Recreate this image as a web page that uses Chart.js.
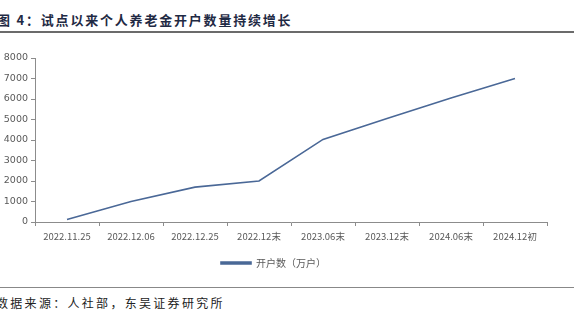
<!DOCTYPE html>
<html lang="zh">
<head>
<meta charset="UTF-8">
<title>个人养老金开户数量</title>
<script src="https://cdn.jsdelivr.net/npm/chart.js"></script>
<style>
  html, body {
    margin: 0;
    padding: 0;
    background: #fff;
    width: 574px;
    height: 321px;
    overflow: hidden;
    font-family: "Noto Sans CJK SC", "DejaVu Sans", sans-serif;
  }
  .title {
    position: absolute;
    left: -3px;
    top: 10px;
    font-size: 13px;
    font-weight: bold;
    color: #1f2a44;
    white-space: nowrap;
    letter-spacing: 1.8px;
  }
  .rule {
    position: absolute;
    left: 0;
    width: 574px;
    background: #6b6b6b;
  }
  .source {
    position: absolute;
    left: -4px;
    top: 294px;
    font-size: 12px;
    color: #222;
    white-space: nowrap;
    letter-spacing: 2.3px;
  }
  #wrap {
    position: absolute;
    left: 0;
    top: 40px;
    width: 574px;
    height: 240px;
  }
</style>
</head>
<body>
<div class="title">图 4：试点以来个人养老金开户数量持续增长</div>
<div class="rule" style="top:31px;height:2px;"></div>
<div id="wrap"><canvas id="c"></canvas></div>
<div class="rule" style="top:287px;height:1px;background:#888;"></div>
<div class="source">数据来源：人社部，东吴证券研究所</div>
<script>
// 数据
const categories = ['2022.11.25', '2022.12.06', '2022.12.25', '2022.12末', '2023.06末', '2023.12末', '2024.06末', '2024.12初'];
const accounts = [120, 1000, 1700, 2000, 4030, 5050, 6050, 7000];
const yTicks = [0, 1000, 2000, 3000, 4000, 5000, 6000, 7000, 8000];

const axisColor = '#8c8c8c';
const labelColor = '#595959';

new Chart(document.getElementById('c'), {
  type: 'line',
  data: {
    labels: categories,
    datasets: [{
      label: '开户数（万户）',
      data: accounts,
      borderColor: '#4a6897',
      backgroundColor: '#4a6897',
      borderWidth: 1.6,
      pointRadius: 0,
      tension: 0
    }]
  },
  options: {
    responsive: true,
    maintainAspectRatio: false,
    animation: false,
    layout: { padding: { top: 18, right: 27, left: 0, bottom: 2 } },
    plugins: {
      tooltip: { enabled: false },
      legend: {
        position: 'bottom',
        labels: {
          boxWidth: 30,
          boxHeight: 2,
          color: labelColor,
          font: { size: 10, family: '"Noto Sans CJK SC", sans-serif' },
          padding: 8
        }
      }
    },
    scales: {
      x: {
        offset: true,
        grid: {
          display: true,
          drawOnChartArea: false,
          offset: true,
          color: axisColor,
          tickLength: 4
        },
        border: { color: axisColor, width: 1 },
        ticks: {
          color: labelColor,
          font: { size: 9.5, family: '"Noto Sans CJK SC", sans-serif' },
          maxRotation: 0,
          autoSkip: false,
          padding: 5
        },
        afterFit: s => { s.height = 28; }
      },
      y: {
        min: 0,
        max: 8000,
        afterBuildTicks: s => { s.ticks = yTicks.map(v => ({ value: v })); },
        grid: {
          display: true,
          drawOnChartArea: false,
          color: axisColor,
          tickLength: 4
        },
        border: { color: axisColor, width: 1 },
        ticks: {
          color: labelColor,
          font: { size: 9.5, family: '"DejaVu Sans", sans-serif' },
          padding: 3,
          callback: v => String(v)
        },
        afterFit: s => { s.width = 35; }
      }
    }
  }
});
</script>
</body>
</html>
